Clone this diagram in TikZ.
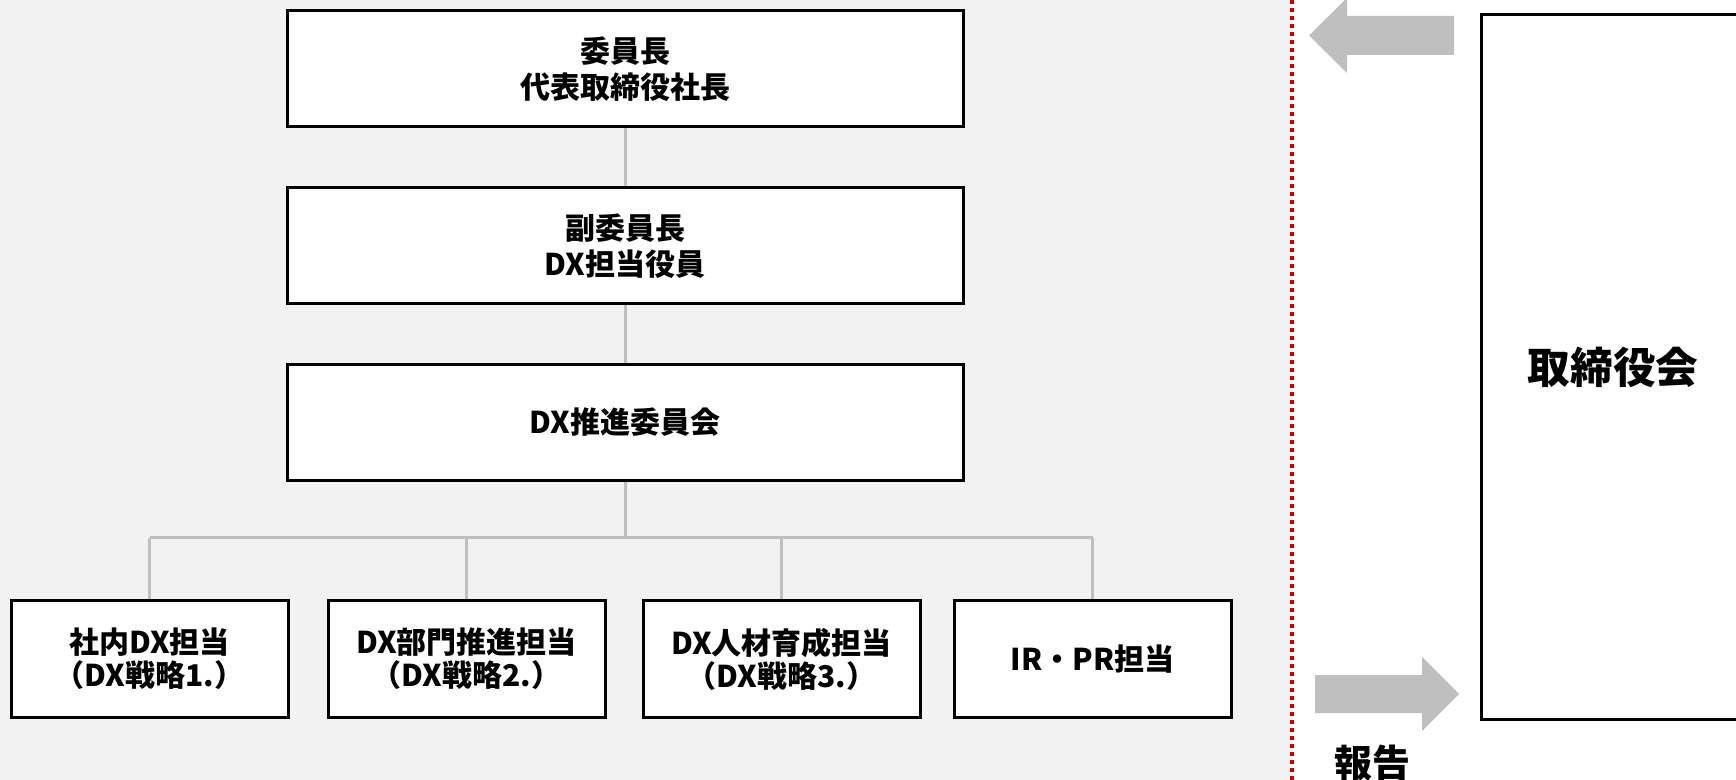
\documentclass[tikz,border=0pt]{standalone}
\usepackage{fontspec}
\setmainfont{Noto Sans CJK JP}
\usetikzlibrary{backgrounds}

\definecolor{bgGray}{HTML}{F2F2F2}
\definecolor{lineGray}{HTML}{BFBFBF}
\definecolor{dotRed}{HTML}{CC0000}

\tikzset{
  orgbox/.style={draw=black, line width=1.5pt, fill=white, align=center, inner sep=0pt,
                 font=\bfseries\fontsize{15}{18}\selectfont},
  wide/.style={orgbox, minimum width=338pt, minimum height=58pt},
  unit/.style={orgbox, minimum width=138.5pt, minimum height=58pt,
               font=\bfseries\fontsize{15}{16.5}\selectfont},
  link/.style={lineGray, line width=1.5pt},
}

\begin{document}
\begin{tikzpicture}[x=0.5pt, y=-0.5pt]

\clip (0,0) rectangle (1736,780);

\node [wide]  (chair)   at (625,  69)   {委員長\\代表取締役社長};
\node [wide]  (vice)    at (625, 246)   {副委員長\\DX担当役員};
\node [wide]  (comm)    at (625, 422.5) {DX推進委員会};

\node [unit]  (inhouse) at (149.5, 659) {社内DX担当\\（DX戦略1.）};
\node [unit]  (dept)    at (466.5, 659) {DX部門推進担当\\（DX戦略2.）};
\node [unit]  (hr)      at (781.5, 659) {DX人材育成担当\\（DX戦略3.）};
\node [unit]  (irpr)    at (1092.5,659) {IR・PR担当};

\node [orgbox, minimum width=132pt, minimum height=352pt,
       font=\bfseries\fontsize{21.3}{24}\selectfont] (board) at (1613, 367) {取締役会};

\coordinate (bus) at (625, 538);

\begin{scope}[on background layer]
\fill [bgGray] (0,0) rectangle (1292,780);
\draw [dotRed, line width=2pt, dash pattern=on 2pt off 2pt] (1292,0) -- (1292,780);

\draw [link] (chair) -- (vice);
\draw [link] (vice) -- (comm);
\draw [link] (comm) -- (bus);
\draw [link] (bus -| inhouse.north) -- (bus -| irpr.north);
\foreach \n in {inhouse, dept, hr, irpr}
  \draw [link] (bus -| \n.north) -- (\n);
\end{scope}

% -------- arrows to and from the board -----------
\fill [lineGray] (1454,16) -- (1347,16) -- (1347,-2) -- (1309,35.5)
                 -- (1347,73) -- (1347,55) -- (1454,55) -- cycle;
\fill [lineGray] (1315,675) -- (1422,675) -- (1422,657) -- (1459,694)
                 -- (1422,731) -- (1422,713) -- (1315,713) -- cycle;

\node [font=\bfseries\fontsize{19}{22}\selectfont] (report) at (1372, 763) {報告};

\end{tikzpicture}
\end{document}
